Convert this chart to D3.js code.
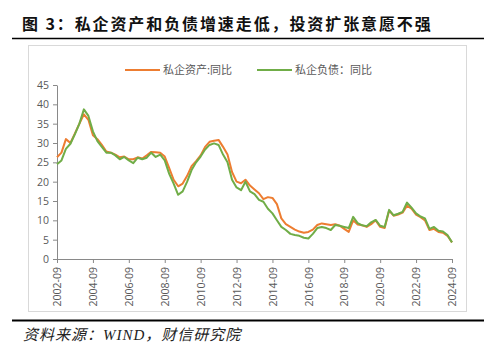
<!DOCTYPE html>
<html>
<head>
<meta charset="utf-8">
<script src="https://cdn.jsdelivr.net/npm/d3@7"></script>
<style>
  html, body { margin: 0; padding: 0; background: #fff; }
  svg { display: block; }
</style>
</head>
<body>
<div id="chart"></div>
<script>
// Quarterly readings of the monthly series (YoY, %)
const months = [
  '2002-09','2002-12','2003-03','2003-06','2003-09','2003-12','2004-03','2004-06','2004-09','2004-12',
  '2005-03','2005-06','2005-09','2005-12','2006-03','2006-06','2006-09','2006-12','2007-03','2007-06',
  '2007-09','2007-12','2008-03','2008-06','2008-09','2008-12','2009-03','2009-06','2009-09','2009-12',
  '2010-03','2010-06','2010-09','2010-12','2011-03','2011-06','2011-09','2011-12','2012-03','2012-06',
  '2012-09','2012-12','2013-03','2013-06','2013-09','2013-12','2014-03','2014-06','2014-09','2014-12',
  '2015-03','2015-06','2015-09','2015-12','2016-03','2016-06','2016-09','2016-12','2017-03','2017-06',
  '2017-09','2017-12','2018-03','2018-06','2018-09','2018-12','2019-03','2019-06','2019-09','2019-12',
  '2020-03','2020-06','2020-09','2020-12','2021-03','2021-06','2021-09','2021-12','2022-03','2022-06',
  '2022-09','2022-12','2023-03','2023-06','2023-09','2023-12','2024-03','2024-06','2024-09'
];
const assets = [
  26.3,27.5,31.0,30.0,32.5,35.0,37.4,36.0,32.0,31.0,
  29.5,27.8,27.5,27.0,26.3,26.5,25.8,25.8,26.3,26.0,
  26.8,27.7,27.6,27.5,26.5,23.5,20.5,18.8,19.5,21.5,
  24.0,25.3,26.8,29.0,30.3,30.6,30.8,29.0,27.0,22.5,
  20.0,19.6,20.5,19.0,18.0,17.0,15.5,16.0,15.8,14.2,
  10.5,9.0,8.3,7.6,7.1,6.8,7.0,7.6,8.8,9.2,
  9.0,8.8,9.0,8.6,7.8,7.0,10.0,8.9,8.7,8.3,
  9.0,10.0,8.3,8.0,12.5,11.2,11.5,12.0,13.8,13.0,
  11.5,10.8,10.0,7.5,7.8,7.0,6.8,6.0,4.3
];
const liabilities = [
  24.5,25.5,28.5,29.8,32.3,35.0,38.7,37.0,33.0,30.5,
  29.0,27.5,27.5,26.8,25.8,26.4,25.5,24.8,26.2,25.8,
  26.2,27.5,26.4,27.0,25.5,22.0,19.5,16.6,17.5,20.0,
  23.0,25.0,26.5,28.3,29.5,29.9,29.5,27.0,25.0,20.5,
  18.5,17.8,20.0,17.5,16.8,15.3,14.8,13.0,11.8,10.0,
  8.3,7.5,6.5,6.2,6.0,5.5,5.3,6.5,8.0,8.3,
  8.0,7.5,8.8,8.6,8.3,8.0,10.9,9.3,8.7,8.5,
  9.5,10.1,8.6,8.3,12.7,11.3,11.7,12.2,14.6,13.3,
  11.8,11.0,10.5,7.8,8.3,7.3,7.1,6.2,4.3
];
const xTicks = ['2002-09','2004-09','2006-09','2008-09','2010-09','2012-09',
  '2014-09','2016-09','2018-09','2020-09','2022-09','2024-09'];
const yTicks = [0, 5, 10, 15, 20, 25, 30, 35, 40, 45];
const seriesNames = ['私企资产:同比', '私企负债：同比'];
const seriesColors = ['#ED7D31', '#70AD47'];

const W = 500, H = 353;
const parse = d3.timeParse('%Y-%m');
const plot = { left: 57, right: 452, top: 85, bottom: 259 };

const svg = d3.select('#chart').append('svg')
  .attr('width', W)
  .attr('height', H);

// Title and rules
svg.append('text')
  .attr('x', 22)
  .attr('y', 30)
  .attr('font-family', '"Noto Sans CJK SC", sans-serif')
  .attr('font-weight', 700)
  .attr('font-size', 16)
  .attr('letter-spacing', 1.9)
  .attr('fill', '#111')
  .text('图 3：私企资产和负债增速走低，投资扩张意愿不强');

svg.append('line')
  .attr('x1', 12).attr('x2', 484)
  .attr('y1', 38.5).attr('y2', 38.5)
  .attr('stroke', '#000').attr('stroke-width', 1.5);

// Chart frame
svg.append('rect')
  .attr('x', 28.5).attr('y', 45.5)
  .attr('width', 438).attr('height', 266)
  .attr('fill', 'none')
  .attr('stroke', '#d9d9d9');

svg.append('line')
  .attr('x1', 12).attr('x2', 484)
  .attr('y1', 320.5).attr('y2', 320.5)
  .attr('stroke', '#000').attr('stroke-width', 2);

svg.append('text')
  .attr('x', 23)
  .attr('y', 340)
  .attr('font-family', '"Liberation Serif", "Noto Sans CJK SC", serif')
  .attr('font-style', 'italic')
  .attr('font-size', 15)
  .attr('letter-spacing', 1)
  .attr('fill', '#222')
  .text('资料来源：WIND，财信研究院');

// Scales
const x = d3.scaleTime()
  .domain([parse(months[0]), parse(months[months.length - 1])])
  .range([plot.left, plot.right]);

const y = d3.scaleLinear()
  .domain([0, 45])
  .range([plot.bottom, plot.top]);

const tickFont = '"Open Sans", "Liberation Sans", sans-serif';

// Y axis
const yAxis = svg.append('g')
  .attr('transform', `translate(${plot.left},0)`)
  .call(d3.axisLeft(y).tickValues(yTicks).tickSize(4).tickSizeOuter(0));
yAxis.select('.domain').attr('stroke', '#898989');
yAxis.selectAll('.tick line').attr('stroke', '#898989');
yAxis.selectAll('.tick text')
  .attr('x', -8)
  .attr('font-family', tickFont)
  .attr('font-size', 10.5)
  .attr('fill', '#595959');

// X axis
const xAxis = svg.append('g')
  .attr('transform', `translate(0,${plot.bottom})`)
  .call(d3.axisBottom(x).tickValues(xTicks.map(parse)).tickFormat(d3.timeFormat('%Y-%m')).tickSize(4).tickSizeOuter(0));
xAxis.select('.domain').attr('stroke', '#898989');
xAxis.selectAll('.tick line').attr('stroke', '#898989');
xAxis.selectAll('.tick text')
  .attr('transform', 'rotate(-90)')
  .attr('text-anchor', 'end')
  .attr('x', -8)
  .attr('y', 0)
  .attr('dy', '0.35em')
  .attr('font-family', tickFont)
  .attr('font-size', 10.5)
  .attr('fill', '#595959');

// Lines
const line = d3.line()
  .x((d, i) => x(parse(months[i])))
  .y(d => y(d));

[assets, liabilities].forEach((vals, k) => {
  svg.append('path')
    .datum(vals)
    .attr('fill', 'none')
    .attr('stroke', seriesColors[k])
    .attr('stroke-width', 2)
    .attr('stroke-linejoin', 'round')
    .attr('d', line);
});

// Legend
const legendX = [125, 257];
seriesNames.forEach((name, k) => {
  const lg = svg.append('g').attr('transform', `translate(${legendX[k]},70)`);
  lg.append('line')
    .attr('x1', 0).attr('x2', 35)
    .attr('stroke', seriesColors[k])
    .attr('stroke-width', 2);
  lg.append('text')
    .attr('x', 38)
    .attr('y', 4)
    .attr('font-family', '"Noto Sans CJK SC", sans-serif')
    .attr('font-size', 11)
    .attr('fill', '#595959')
    .text(name);
});
</script>
</body>
</html>
